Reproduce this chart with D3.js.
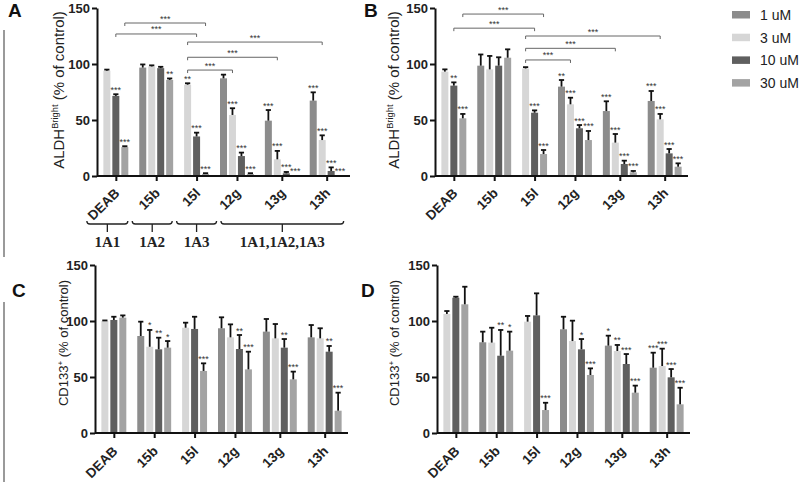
<!DOCTYPE html>
<html><head><meta charset="utf-8">
<script src="https://cdn.jsdelivr.net/npm/d3@7"></script>
<style>body{margin:0;background:#fff}svg{display:block}</style>
</head><body>
<svg id="chart" width="800" height="486"></svg>
<script>
// ---------------- DATA ----------------
const groups = ["DEAB","15b","15l","12g","13g","13h"];
const seriesNames = ["1 uM","3 uM","10 uM","30 uM"];
const seriesColors = ["#8c8c8c","#d6d6d6","#5f5f5f","#a3a3a3"];
const yTicks = [0,50,100,150];

// Panel A: ALDH bright (% of control); null = not tested
const aMean = [[null,94,71.5,25.8],[96.8,97.8,96.3,85.8],[null,81.5,35.3,1.8],[87.2,54.5,17.8,1.8],[49.4,14.9,2.4,0.3],[67.3,32.1,4.5,0.3]];
const aErr  = [[null,1,1.5,0.8],[2.8,1,1.2,1.3],[null,1.3,3.4,0.7],[3.3,6,3.1,0.7],[9.5,7.5,1.2,0],[7.4,4.2,3.2,0]];
const aSig  = [[null,"","***","***"],["","","","**"],[null,"**","***","***"],["","***","***","***"],["***","***","***","***"],["***","***","***","***"]];
const aBrackets = [["DEAB",3,"15l",3,136.6],["DEAB",2,"15l",2,126.8],["15l",1,"13h",1,119.6],["15l",1,"13g",1,106],["15l",1,"12g",1,94.6]];

// Panel B
const bMean = [[null,93.2,80.7,51.5],[98.5,95.2,98.5,105.6],[null,96,56.5,19.6],[79.8,64,42.6,32.1],[58,29.8,10.7,3.3],[67,50.6,20.2,8.3]];
const bErr  = [[null,2,2.9,3.9],[10,12,7.5,7.5],[null,1.2,2.1,3.6],[5.9,5.9,2.9,8.1],[8.7,7.7,3,1.2],[8.9,4.8,3.9,3]];
const bSig  = [[null,"","**","***"],["","","",""],[null,"","***","***"],["**","***","***","***"],["***","***","***","***"],["***","***","***","***"]];
const bBrackets = [["DEAB",3,"15l",3,144.6],["DEAB",2,"15l",2,132],["15l",1,"13h",1,125],["15l",1,"13g",1,114],["15l",1,"12g",1,103.6]];

// Panel C: CD133+ (% of control)
const cMean = [[null,100,100.9,103],[86.6,77,74.7,76.2],[null,94,92.9,55.4],[93.5,85.4,75,56.8],[90.5,84.5,76.2,47.9],[85.4,84.5,72.6,19.9]];
const cErr  = [[null,0.5,2.9,2],[12.8,15,10.4,5.9],[null,4.5,10.9,6.8],[9.8,11.6,12.5,15.8],[11.3,12.8,7.7,6.9],[11,9,5.1,16.1]];
const cSig  = [[null,"","",""],["","*","**","*"],[null,"","","***"],["","","**","***"],["","","**","***"],["","","**","***"]];

// Panel D
const dMean = [[null,106.3,120.8,114.9],[81,80.7,69,73.5],[null,99.4,105,20.5],[92.6,82.1,74.7,51.8],[78,73.2,61.6,36],[58.3,59.8,49.7,25.6]];
const dErr  = [[null,2.6,0.9,15.7],[9.5,13.3,23,17],[null,5.1,19.7,6.5],[11.2,18.2,9.2,5.9],[8.9,5.4,8.9,6.3],[13.4,15.5,7.4,14.8]];
const dSig  = [[null,"","",""],["","","**","*"],[null,"","","***"],["","","*","***"],["*","**","***","***"],["***","***","***","***"]];

// isoform classes under panel A
const classLabels = ["1A1","1A2","1A3","1A1,1A2,1A3"];
const classSpans = [["DEAB","DEAB"],["15b","15b"],["15l","15l"],["12g","13h"]];

// ---------------- DRAWING ----------------
const svg = d3.select("#chart");
const FONT = "'Liberation Sans', Arial, sans-serif";
const AXW = 253, AXH = 168, PAD = 0.6, GAP = 1, BARW = 0.78;

svg.append("line").attr("x1",4).attr("x2",4).attr("y1",30).attr("y2",257).attr("stroke","#9a9a9a").attr("stroke-width",2);
svg.append("line").attr("x1",4).attr("x2",4).attr("y1",302).attr("y2",482).attr("stroke","#9a9a9a").attr("stroke-width",2);

function drawPanel(cfg){
  const g = svg.append("g");
  let pos = PAD; const lay = [];
  cfg.mean.forEach(row=>{
    const present = row.map((v,i)=>v==null?null:i).filter(i=>i!=null);
    lay.push({start:pos, present, n:present.length});
    pos += present.length + GAP;
  });
  const total = pos - GAP + PAD;
  const xs = d3.scaleLinear().domain([0,total]).range([cfg.ax, cfg.ax+AXW]);
  const y = d3.scaleLinear().domain([0,150]).range([cfg.y0, cfg.y0-AXH]);
  const center = gi => xs(lay[gi].start + lay[gi].n/2);
  const barC = (gi,si) => xs(lay[gi].start + lay[gi].present.indexOf(si) + 0.5);
  const bw = (xs(1)-xs(0))*BARW;
  const xOrd = d3.scaleOrdinal().domain(groups).range(groups.map((d,i)=>center(i)));

  cfg.mean.forEach((row,gi)=>{
    row.forEach((v,si)=>{
      if(v==null) return;
      const cx = barC(gi,si);
      g.append("rect").attr("x",cx-bw/2).attr("width",bw)
        .attr("y",y(v)).attr("height",Math.max(0,y(0)-y(v)))
        .attr("fill",seriesColors[si]);
      const e = cfg.err[gi][si];
      const top = y(v+e);
      if(e>0){
        g.append("line").attr("x1",cx).attr("x2",cx).attr("y1",y(v)).attr("y2",top)
          .attr("stroke","#111").attr("stroke-width",1.8);
        g.append("line").attr("x1",cx-2.6).attr("x2",cx+2.6).attr("y1",top).attr("y2",top)
          .attr("stroke","#111").attr("stroke-width",1.8);
      }
      const s = cfg.sig[gi][si];
      if(s){
        g.append("text").attr("x",cx).attr("y",top-1.5).attr("text-anchor","middle")
          .attr("font-family",FONT).attr("font-size",9).attr("fill","#333").text(s);
      }
    });
  });

  (cfg.brackets||[]).forEach(b=>{
    const x1 = barC(groups.indexOf(b[0]),b[1]);
    const x2 = barC(groups.indexOf(b[2]),b[3]);
    const yb = y(b[4]);
    g.append("path").attr("d",`M${x1},${yb+3}V${yb}H${x2}V${yb+3}`)
      .attr("fill","none").attr("stroke","#666").attr("stroke-width",1);
    g.append("text").attr("x",(x1+x2)/2).attr("y",yb-1.5).attr("text-anchor","middle")
      .attr("font-family",FONT).attr("font-size",9).attr("fill","#333").text("***");
  });

  const ya = g.append("g").attr("transform",`translate(${cfg.ax},0)`)
    .call(d3.axisLeft(y).tickValues(yTicks).tickSize(5).tickSizeOuter(0));
  ya.select(".domain").attr("stroke","#111").attr("stroke-width",2);
  ya.selectAll(".tick line").attr("stroke","#111").attr("stroke-width",2);
  ya.selectAll(".tick text").attr("font-family",FONT).attr("font-size",13)
    .attr("font-weight","bold").attr("fill","#222").attr("x",-7);

  const xa = g.append("g").attr("transform",`translate(0,${cfg.y0})`)
    .call(d3.axisBottom(xOrd).tickSize(5));
  xa.select(".domain").remove();
  xa.append("line").attr("x1",cfg.ax).attr("x2",cfg.ax+AXW).attr("y1",0).attr("y2",0)
    .attr("stroke","#111").attr("stroke-width",2);
  xa.selectAll(".tick line").attr("stroke","#111").attr("stroke-width",2);
  xa.selectAll(".tick text").attr("font-family",FONT).attr("font-size",13.5)
    .attr("font-weight","bold").attr("fill","#222")
    .attr("text-anchor","end").attr("dy",null).attr("y",null)
    .attr("transform",`translate(4,${cfg.tly}) rotate(-45)`);

  const yl = g.append("text").attr("transform",`translate(${cfg.lx},${cfg.ly}) rotate(-90)`)
    .attr("text-anchor","middle").attr("font-family",FONT).attr("font-size",cfg.lfs).attr("fill","#222");
  yl.append("tspan").text(cfg.label[0]);
  yl.append("tspan").attr("font-size",cfg.lfs*0.62).attr("dy",-cfg.lfs*0.4).text(cfg.label[1]);
  yl.append("tspan").attr("dy",cfg.lfs*0.4).text(cfg.label[2]);

  g.append("text").attr("x",cfg.letter[1]).attr("y",cfg.letter[2]).attr("font-family",FONT)
    .attr("font-size",19).attr("font-weight","bold").attr("fill","#111").text(cfg.letter[0]);

  return {center};
}

const pA = drawPanel({mean:aMean,err:aErr,sig:aSig,brackets:aBrackets,ax:97,y0:176,lx:64,ly:90,lfs:15,tly:18,
  label:["ALDH","Bright"," (% of control)"],letter:["A",8,17]});
drawPanel({mean:bMean,err:bErr,sig:bSig,brackets:bBrackets,ax:435,y0:176,lx:399,ly:90,lfs:15,tly:18,
  label:["ALDH","Bright"," (% of control)"],letter:["B",364,17]});
drawPanel({mean:cMean,err:cErr,sig:cSig,ax:95,y0:433,lx:68,ly:343,lfs:13,tly:19,
  label:["CD133","+"," (% of control)"],letter:["C",12,297]});
drawPanel({mean:dMean,err:dErr,sig:dSig,ax:437,y0:433,lx:399,ly:343,lfs:13,tly:19,
  label:["CD133","+"," (% of control)"],letter:["D",361,297]});

const spanPad = [[-29,12],[-24,16],[-20,20],[-16,17]];
const cls = svg.append("g");
classLabels.forEach((lab,i)=>{
  const x1 = pA.center(groups.indexOf(classSpans[i][0])) + spanPad[i][0];
  const x2 = pA.center(groups.indexOf(classSpans[i][1])) + spanPad[i][1];
  const yb = 224, xm = (x1+x2)/2;
  cls.append("path").attr("d",`M${x1},${yb-3}Q${x1},${yb} ${x1+3},${yb}H${x2-3}Q${x2},${yb} ${x2},${yb-3}M${xm},${yb}V${yb+8}`)
    .attr("fill","none").attr("stroke","#222").attr("stroke-width",1.3);
  cls.append("text").attr("x",xm).attr("y",247).attr("text-anchor","middle")
    .attr("font-family","'Liberation Serif','Times New Roman',serif").attr("font-size",15)
    .attr("font-weight","bold").attr("fill","#222").text(lab);
});

const leg = svg.append("g");
seriesNames.forEach((n,i)=>{
  leg.append("rect").attr("x",732).attr("y",11+i*22.7).attr("width",18).attr("height",7.5).attr("fill",seriesColors[i]);
  leg.append("text").attr("x",760).attr("y",20+i*22.7).attr("font-family",FONT).attr("font-size",14)
    .attr("fill","#222").text(n);
});
</script>
</body></html>
